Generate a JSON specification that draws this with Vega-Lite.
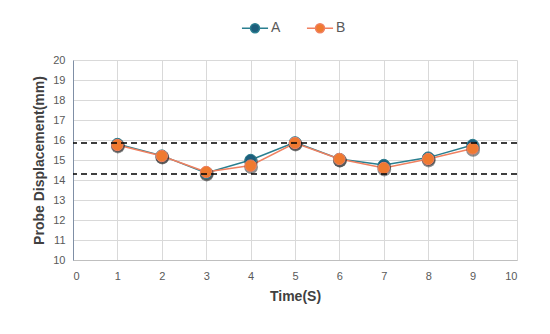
{
  "$schema": "https://vega.github.io/schema/vega-lite/v6.json",
  "width": 444,
  "height": 200,
  "autosize": {"type": "none"},
  "padding": {"left": 73, "top": 60, "right": 33, "bottom": 74},
  "background": "white",
  "config": {
    "view": {"stroke": null},
    "font": "Liberation Sans",
    "axis": {"labelColor": "#595959", "labelFontSize": 11, "titleColor": "#404040", "titleFontSize": 14, "titleFontWeight": "bold", "gridColor": "#d9d9d9", "ticks": false, "domainColor": "#bfbfbf"}
  },
  "data": {"values": [
    {"t": 1, "s": "A", "v": 15.8}, {"t": 2, "s": "A", "v": 15.22}, {"t": 3, "s": "A", "v": 14.35}, {"t": 4, "s": "A", "v": 15.0}, {"t": 5, "s": "A", "v": 15.88}, {"t": 6, "s": "A", "v": 15.05}, {"t": 7, "s": "A", "v": 14.75}, {"t": 8, "s": "A", "v": 15.12}, {"t": 9, "s": "A", "v": 15.75},
    {"t": 1, "s": "B", "v": 15.75}, {"t": 2, "s": "B", "v": 15.2}, {"t": 3, "s": "B", "v": 14.4}, {"t": 4, "s": "B", "v": 14.72}, {"t": 5, "s": "B", "v": 15.85}, {"t": 6, "s": "B", "v": 15.05}, {"t": 7, "s": "B", "v": 14.6}, {"t": 8, "s": "B", "v": 15.05}, {"t": 9, "s": "B", "v": 15.58}
  ]},
  "layer": [
    {
      "mark": {"type": "line", "strokeWidth": 1.5},
      "encoding": {
        "x": {"field": "t", "type": "quantitative", "scale": {"domain": [0, 10]}, "axis": {"title": "Time(S)", "tickCount": 10, "labelPadding": 10, "titlePadding": 8, "domain": true}},
        "y": {"field": "v", "type": "quantitative", "scale": {"domain": [10, 20]}, "axis": {"title": "Probe Displacement(mm)", "tickCount": 10, "labelPadding": 8, "titlePadding": 6, "domainColor": "#7f8fa6"}},
        "color": {"field": "s", "type": "nominal", "scale": {"domain": ["A", "B"], "range": ["#2a7f90", "#f08060"]}, "legend": null},
        "detail": {"field": "s"}
      }
    },
    {
      "mark": {"type": "point", "filled": true, "size": 190, "color": "#222222", "opacity": 0.5, "yOffset": 1.5, "xOffset": 0.5},
      "encoding": {
        "x": {"field": "t", "type": "quantitative"},
        "y": {"field": "v", "type": "quantitative"}
      }
    },
    {
      "mark": {"type": "point", "filled": false, "size": 130, "opacity": 1, "strokeWidth": 1, "fillOpacity": 1},
      "encoding": {
        "x": {"field": "t", "type": "quantitative"},
        "y": {"field": "v", "type": "quantitative"},
        "fill": {"field": "s", "type": "nominal", "scale": {"domain": ["A", "B"], "range": ["#1d5e7c", "#ef7a30"]}, "legend": {"title": null, "orient": "none", "legendX": 172, "legendY": -42, "direction": "horizontal", "symbolType": "M-1.45,0H-0.5M0.5,0H1.45M-0.5,0A0.5,0.5 0 1,1 0.5,0A0.5,0.5 0 1,1 -0.5,0Z", "symbolSize": 324, "symbolStrokeWidth": 1.5, "labelFontSize": 14, "labelColor": "#595959", "columnPadding": 22, "labelOffset": 6}},
        "stroke": {"field": "s", "type": "nominal", "scale": {"domain": ["A", "B"], "range": ["#2a7f90", "#f08060"]}, "legend": {"title": null, "orient": "none", "legendX": 172, "legendY": -42, "direction": "horizontal", "symbolType": "M-1.45,0H-0.5M0.5,0H1.45M-0.5,0A0.5,0.5 0 1,1 0.5,0A0.5,0.5 0 1,1 -0.5,0Z", "symbolSize": 324, "symbolStrokeWidth": 1.5, "labelFontSize": 14, "labelColor": "#595959", "columnPadding": 22, "labelOffset": 6}}
      }
    },
    {
      "data": {"values": [{"y": 15.85}, {"y": 14.3}]},
      "mark": {"type": "rule", "color": "black", "strokeWidth": 1.5, "strokeDash": [6, 4]},
      "encoding": {"y": {"field": "y", "type": "quantitative"}}
    }
  ],
  "resolve": {"scale": {"color": "independent", "fill": "independent", "stroke": "independent"}}
}
